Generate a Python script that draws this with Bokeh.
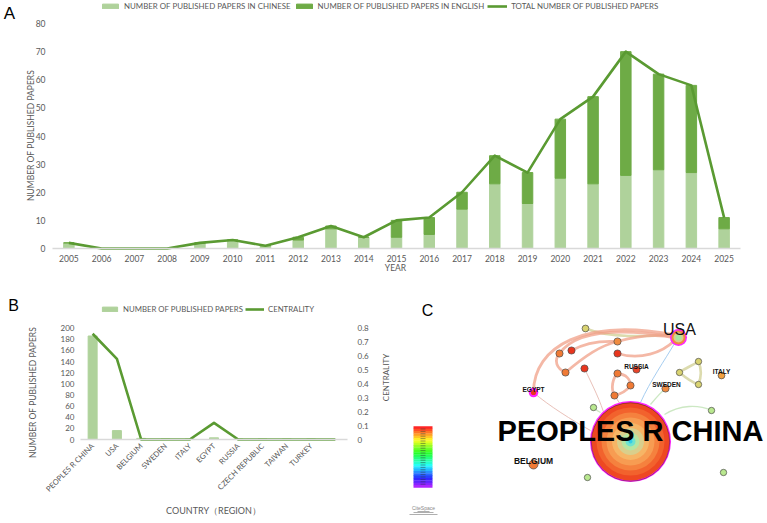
import math
import colorsys

from bokeh.plotting import figure
from bokeh.layouts import column, row
from bokeh.models import Range1d, FixedTicker, Label, Legend, LegendItem, LinearAxis
from bokeh.core.properties import value
from bokeh.embed import file_html
from bokeh.resources import INLINE

# ---------------- Panel A: annual publications ----------------
years = list(range(2005, 2026))
papers_chinese = [2, 0, 0, 0, 2, 3, 1, 3, 7, 4, 4, 5, 14, 23, 16, 25, 23, 26, 28, 27, 7]
papers_english = [0, 0, 0, 0, 0, 0, 0, 1, 1, 0, 6, 6, 6, 10, 11, 21, 31, 44, 34, 31, 4]
papers_total = [c + e for c, e in zip(papers_chinese, papers_english)]
ticks_a = list(range(0, 81, 10))

# ---------------- Panel B: countries / regions ----------------
countries = ["PEOPLES R CHINA", "USA", "BELGIUM", "SWEDEN", "ITALY", "EGYPT",
             "RUSSIA", "CZECH REPUBLIC", "TAIWAN", "TURKEY", ""]
country_papers = [186, 16, 2, 1, 1, 3, 1, 1, 1, 1, 0]
country_centrality = [0.76, 0.58, 0, 0, 0, 0.12, 0, 0, 0, 0, 0]
ticks_b_left = list(range(0, 201, 20))
ticks_b_right = [0, 0.1, 0.2, 0.3, 0.4, 0.5, 0.6, 0.7, 0.8]

# ---------------- Panel C: collaboration network ----------------
# node layout (layout units), radius, fill colour
net_x = [533, 636, 665, 721, 585, 617, 559, 571, 617, 565, 584, 617, 630, 614,
         593, 698, 679, 698, 711, 587, 723]
net_y = [464, 369, 388, 375, 328, 341, 353, 350, 353, 372, 368, 373, 385, 395,
         407, 361, 372, 384, 410, 477, 472]
net_r = [4.5, 3.6, 3.6, 3.4, 3.4, 3.6, 3.6, 3.6, 3.6, 3.6, 3.6, 3.6, 3.6, 3.6,
         3.2, 3.2, 3.2, 3.2, 3.2, 3.2, 3.2]
net_fill = ["#f07a35", "#e8452a", "#f08a40", "#f0a040", "#d9d370", "#f08c40",
            "#f07a35", "#e8361e", "#e8361e", "#f07a35", "#e8361e", "#f07a35",
            "#f07a35", "#f07a35", "#b9e88f", "#d9d370", "#d9d370", "#d9d370",
            "#b9e88f", "#b9e88f", "#b9e88f"]

hub_names = ["PEOPLES R CHINA", "USA", "EGYPT"]
hub_x = [630, 678, 533]
hub_y = [441, 337, 392]
hub_r = [40.5, 8.5, 4.8]
# concentric year rings of the hub nodes, outer to inner
china_rings_r = [39, 34, 29, 24, 18.5, 13.5, 9, 5, 2]
china_rings_c = ["#ee4822", "#f2622d", "#f5813e", "#f79c52", "#f6b566",
                 "#d9cf8c", "#b6e6a2", "#6fe3cf", "#35cde6"]
usa_rings_r = [7, 5, 3]
usa_rings_c = ["#f08a3c", "#d9cf8c", "#a8e6a0"]

# edges as cubic curves: x0, y0, x1, y1, cx0, cy0, cx1, cy1
edges_strong = [
    (533, 392, 672, 334, 533, 345, 585, 318),
    (559, 353, 672, 336, 575, 330, 620, 328),
    (565, 372, 617, 341, 585, 355, 600, 345),
    (617, 341, 672, 337, 635, 336, 655, 333),
    (617, 353, 674, 340, 640, 360, 662, 352),
    (559, 353, 565, 372, 553, 360, 556, 368),
    (617, 373, 630, 385, 626, 374, 630, 379),
    (630, 385, 614, 395, 625, 392, 618, 394),
    (614, 395, 617, 373, 610, 388, 612, 378),
    (571, 350, 617, 341, 585, 342, 600, 340),
]
edges_khaki = [
    (585, 328, 672, 334, 610, 338, 645, 336),
    (698, 361, 679, 372, 690, 366, 684, 368),
    (679, 372, 698, 384, 686, 378, 692, 382),
    (698, 384, 698, 361, 701, 376, 701, 368),
]
edges_faint = [
    (533, 392, 590, 430, 548, 405, 572, 420),
    (584, 368, 605, 418, 592, 385, 600, 400),
    (614, 395, 620, 404, 616, 398, 618, 401),
]
edges_blue = [(640, 402, 674, 343, 650, 380, 664, 360)]
edges_green = [
    (650, 404, 665, 388, 655, 398, 660, 392),
    (664, 414, 711, 410, 680, 404, 698, 404),
    (593, 407, 600, 412, 595, 409, 598, 411),
]

net_labels = ["USA", "EGYPT", "BELGIUM", "RUSSIA", "SWEDEN", "ITALY"]
net_label_x = [679, 533, 533, 636, 666, 721]
net_label_y = [329, 389, 460, 366, 384, 371]
net_label_size = ["16px", "6.5px", "8.5px", "6.5px", "6.5px", "6.5px"]

# ---------------- styling ----------------
FONT = "Lato"
TXT = "#595959"
LIGHT = "#afd29b"
DARK = "#6eab46"
LINE = "#5a9a32"
AXIS = "#d9d9d9"


def frame_range(v0, v1, p0, p1, total):
    """Range spanning the whole canvas (0..total px) with v0 at pixel p0 and v1 at p1."""
    k = (v1 - v0) / (p1 - p0)
    return Range1d(v0 - p0 * k, v0 + (total - p0) * k)


def note(fig, height, text, cx, cy, size, color=TXT, font=FONT, angle=0.0,
         align="center", style="normal"):
    """Text at canvas position (cx, cy), measured from the top-left corner."""
    fig.add_layout(Label(x=cx, y=height - cy, x_units="screen", y_units="screen",
                         text=text, text_font=font, text_font_size=size,
                         text_color=color, text_align=align, text_baseline="middle",
                         text_font_style=style, angle=angle))


def style_axis(ax, size="8.5px", standoff=6):
    ax.major_label_text_font = FONT
    ax.major_label_text_font_size = size
    ax.major_label_text_color = TXT
    ax.major_tick_line_color = None
    ax.minor_tick_line_color = None
    ax.major_tick_out = 0
    ax.major_tick_in = 0
    ax.major_label_standoff = standoff


def bare(fig):
    fig.outline_line_color = None
    fig.grid.visible = False
    fig.min_border = 0
    fig.min_border_left = fig.min_border_right = 0
    fig.min_border_top = fig.min_border_bottom = 0


# ================= Panel A =================
HA, WA = 272, 767
pa = figure(width=WA, height=HA,
            x_range=frame_range(2004.5, 2025.5, 52, 740, WA),
            y_range=frame_range(0, 80, HA - 248, HA - 23, HA),
            output_backend="svg", toolbar_location=None)
bare(pa)

ra1 = pa.vbar(x=years, bottom=0, top=papers_chinese, width=0.32, color=LIGHT)
ra2 = pa.vbar(x=years, bottom=papers_chinese, top=papers_total, width=0.32, color=DARK)
ra3 = pa.line(years, papers_total, line_width=2.6, color=LINE, line_join="round")

xa = pa.xaxis[0]
xa.ticker = FixedTicker(ticks=years)
xa.fixed_location = 0
xa.bounds = (2004.5, 2025.5)
style_axis(xa, standoff=6)
xa.axis_line_color = AXIS
xa.axis_line_width = 1.3
ya = pa.yaxis[0]
ya.ticker = FixedTicker(ticks=ticks_a)
ya.fixed_location = 2004.5
ya.bounds = (0, 80)
style_axis(ya, standoff=7)
ya.axis_line_color = None

note(pa, HA, "A", 9, 13, "17px", color="#000000", font="Liberation Sans")
note(pa, HA, "NUMBER OF PUBLISHED PAPERS", 30, 135, "8.5px", angle=math.pi / 2)
note(pa, HA, "YEAR", 395, 267, "8.5px")

leg_a = Legend(items=[LegendItem(label="NUMBER OF PUBLISHED PAPERS IN CHINESE", renderers=[ra1]),
                      LegendItem(label="NUMBER OF PUBLISHED PAPERS IN ENGLISH", renderers=[ra2]),
                      LegendItem(label="TOTAL NUMBER OF PUBLISHED PAPERS", renderers=[ra3])],
               orientation="horizontal", location=(100, HA - 1 - 10),
               glyph_width=20, glyph_height=6, label_standoff=4, spacing=3,
               padding=0, margin=0, border_line_color=None, background_fill_alpha=0,
               label_text_font=FONT, label_text_font_size="7.9px", label_text_color=TXT,
               label_height=10, label_text_baseline="middle")
pa.add_layout(leg_a)

# ================= Panel B =================
HB, WB = 251, 395
slots = list(range(1, len(countries) + 1))
pb = figure(width=WB, height=HB,
            x_range=frame_range(0.5, len(countries) + 0.5, 80, 347, WB),
            y_range=frame_range(0, 200, HB - 167, HB - 55.7, HB),
            output_backend="svg", toolbar_location=None)
bare(pb)
pb.extra_y_ranges = {"cent": frame_range(0, 0.8, HB - 167, HB - 55.7, HB)}

rb1 = pb.vbar(x=slots, top=country_papers, width=0.37, color=LIGHT)
rb2 = pb.line(slots, country_centrality, y_range_name="cent", line_width=2.6,
              color=LINE, line_join="round")

xb = pb.xaxis[0]
xb.ticker = FixedTicker(ticks=slots[:-1])
xb.major_label_overrides = {s: c for s, c in zip(slots, countries) if c}
xb.major_label_orientation = math.pi / 4
xb.fixed_location = 0
xb.bounds = (0.5, len(countries) + 0.5)
style_axis(xb, size="7.6px", standoff=5)
xb.axis_line_color = AXIS
xb.axis_line_width = 1.3

yb = pb.yaxis[0]
yb.ticker = FixedTicker(ticks=ticks_b_left)
yb.fixed_location = 0.5
yb.bounds = (0, 200)
style_axis(yb, size="8px", standoff=6)
yb.axis_line_color = None

right_ax = LinearAxis(y_range_name="cent", ticker=FixedTicker(ticks=ticks_b_right),
                      major_label_overrides={t: ("0" if t == 0 else str(t)) for t in ticks_b_right},
                      fixed_location=len(countries) + 0.5, bounds=(0, 0.8))
style_axis(right_ax, size="8px", standoff=10)
right_ax.axis_line_color = None
pb.add_layout(right_ax, "right")

note(pb, HB, "B", 13, 33, "16px", color="#000000", font="Liberation Sans")
note(pb, HB, "NUMBER OF PUBLISHED PAPERS", 32, 120, "8.5px", angle=math.pi / 2)
note(pb, HB, "CENTRALITY", 385, 105, "8px", angle=math.pi / 2)
note(pb, HB, "COUNTRY\uff08REGION\uff09", 213, 238, "9px")

leg_b = Legend(items=[LegendItem(label="NUMBER OF PUBLISHED PAPERS", renderers=[rb1]),
                      LegendItem(label="CENTRALITY", renderers=[rb2])],
               orientation="horizontal", location=(100, HB - 32 - 10),
               glyph_width=19, glyph_height=6, label_standoff=4, spacing=2,
               padding=0, margin=0, border_line_color=None, background_fill_alpha=0,
               label_text_font=FONT, label_text_font_size="7.8px", label_text_color=TXT,
               label_height=10, label_text_baseline="middle")
pb.add_layout(leg_b)

# ================= Panel C =================
pc = figure(width=372, height=251, x_range=Range1d(395, 767), y_range=Range1d(523, 272),
            output_backend="svg", toolbar_location=None)
bare(pc)
pc.axis.visible = False


def draw_edges(edges, color, width, alpha):
    cols = list(zip(*edges))
    pc.bezier(x0=list(cols[0]), y0=list(cols[1]), x1=list(cols[2]), y1=list(cols[3]),
              cx0=list(cols[4]), cy0=list(cols[5]), cx1=list(cols[6]), cy1=list(cols[7]),
              line_color=color, line_width=width, line_alpha=alpha)


draw_edges(edges_faint, "#e6b9b0", 1.0, 0.9)
draw_edges(edges_blue, "#9cc8ee", 1.0, 0.9)
draw_edges(edges_green, "#c7e6bd", 1.3, 0.9)
draw_edges(edges_khaki, "#d6d5a0", 2.6, 0.85)
draw_edges(edges_strong, "#f0a088", 2.8, 0.75)

pc.circle(x=net_x, y=net_y, radius=net_r, fill_color=net_fill,
          line_color="#4a4a4a", line_width=0.7)

# hub nodes: magenta centrality ring, then year rings
pc.circle(x=hub_x, y=hub_y, radius=hub_r, fill_color="#ff22ff", line_color=None)
pc.circle(x=[hub_x[0]] * len(china_rings_r), y=[hub_y[0]] * len(china_rings_r),
          radius=china_rings_r, fill_color=china_rings_c, line_color=None)
pc.circle(x=[hub_x[0]], y=[hub_y[0] + 0.5], radius=[39.2], fill_color=None,
          line_color="#3a2418", line_width=0.8, line_alpha=0.6)
pc.circle(x=[hub_x[1]] * len(usa_rings_r), y=[hub_y[1]] * len(usa_rings_r),
          radius=usa_rings_r, fill_color=usa_rings_c, line_color=None)
pc.circle(x=[hub_x[2]], y=[hub_y[2]], radius=[2.6], fill_color="#e8361e", line_color=None)

for lab, lx, ly, ls in zip(net_labels, net_label_x, net_label_y, net_label_size):
    pc.text(x=[lx], y=[ly], text=[lab], text_font=value("Liberation Sans"),
            text_font_size=ls, text_font_style="normal" if lab == "USA" else "bold",
            text_align="center", text_baseline="middle", text_color="#111111")
pc.text(x=[hub_x[0]], y=[430], text=[hub_names[0]], text_font=value("Liberation Sans"),
        text_font_size="29px", text_font_style="bold", text_align="center",
        text_baseline="middle", text_color="#000000")

# colour legend of the network
bands = 26
band_colors = []
for i in range(bands):
    r, g, b = colorsys.hsv_to_rgb(0.77 * i / (bands - 1), 0.85, 1.0)
    band_colors.append("#%02x%02x%02x" % (int(r * 255), int(g * 255), int(b * 255)))
band_h = 61 / bands
pc.rect(x=[422.5] * bands, y=[426 + band_h * (i + 0.5) for i in range(bands)],
        width=19, height=band_h + 0.3, fill_color=band_colors, line_color=None)
pc.segment(x0=[420] * 24, y0=[428.5 + 2.4 * i for i in range(24)],
           x1=[425] * 24, y1=[428.5 + 2.4 * i for i in range(24)],
           line_color="#333333", line_width=0.6, line_alpha=0.8)

pc.text(x=[423], y=[507], text=["CiteSpace"], text_font=value("Liberation Sans"),
        text_font_size="5px", text_align="center", text_baseline="middle", text_color="#8a8a8a")
pc.segment(x0=[409, 413, 417], y0=[514, 512, 511], x1=[437, 433, 429], y1=[514, 512, 511],
           line_color="#9a9a9a", line_width=0.8)
pc.text(x=[427], y=[310], text=["C"], text_font=value("Liberation Sans"),
        text_font_size="16px", text_align="center", text_baseline="middle", text_color="#000000")

layout = column(pa, row(pb, pc))
open("out.html", "w").write(file_html(layout, INLINE))
